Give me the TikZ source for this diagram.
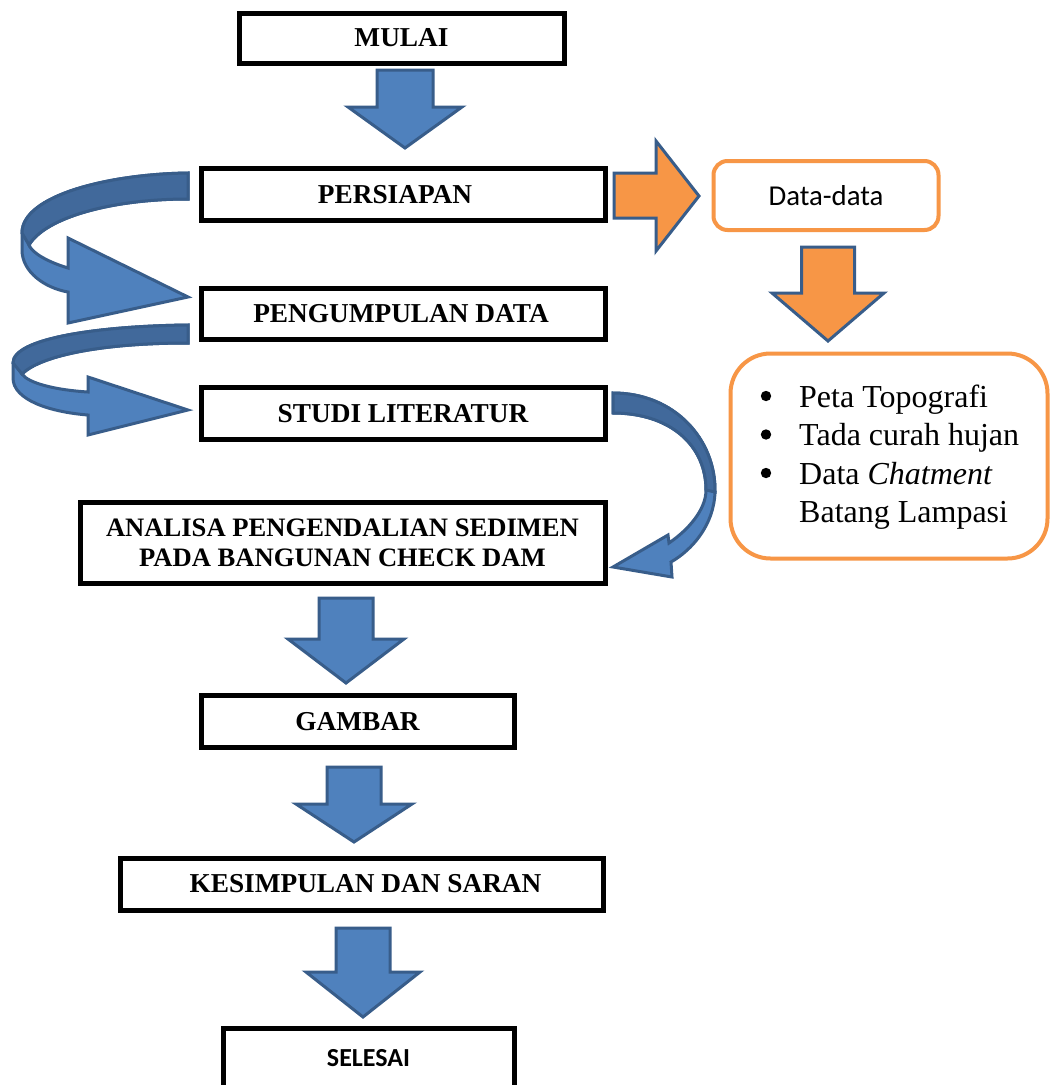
\documentclass[tikz,border=0pt]{standalone}
\usepackage{fontspec}
\setmainfont{Liberation Serif}
\newfontfamily\calibrifont{Carlito}
\definecolor{blockblue}{HTML}{4F81BD}
\definecolor{arrowblue}{HTML}{385D8A}
\definecolor{bandblue}{HTML}{41699B}
\definecolor{orangefill}{HTML}{F79646}
\newcommand{\blockdown}[7]{%
  \draw[blk, fill=#1] (#2-#6,#3) -- (#2+#6,#3) -- (#2+#6,#4) -- (#2+#7,#4) -- (#2,#5) -- (#2-#7,#4) -- (#2-#6,#4) -- cycle;}
\begin{document}
\begin{tikzpicture}[x=1pt,y=-1pt,
  box/.style={draw=black, line width=5pt, fill=white, inner sep=0pt,
    font=\fontsize{27.3}{30}\selectfont\bfseries, align=center},
  blk/.style={draw=arrowblue, line width=3pt, line join=miter, fill=blockblue},
  obox/.style={draw=orangefill, line width=4pt, fill=white},
  itemtext/.style={anchor=base west, inner sep=0pt, font=\fontsize{32}{38.5}\selectfont}
]
\clip (0,0) rectangle (1051,1085);
\fill[white] (0,0) rectangle (1051,1085);

% boxes
\node[box, minimum width=325, minimum height=50] (mulai) at (401.5,38) {MULAI};
\node[box, minimum width=404, minimum height=52] (persiapan) at (403,194.5) {\hspace*{-16pt}PERSIAPAN};
\node[box, minimum width=404, minimum height=51] (pengumpulan) at (403,314) {\hspace*{-4pt}PENGUMPULAN DATA};
\node[box, minimum width=404, minimum height=52] (studi) at (403,413.5) {STUDI LITERATUR};
\node[box, minimum width=525, minimum height=81, font=\fontsize{26.6}{30}\selectfont\bfseries] (analisa) at (342.5,542.5)
  {ANALISA PENGENDALIAN SEDIMEN\\PADA BANGUNAN CHECK DAM};
\node[box, minimum width=313, minimum height=52] (gambar) at (357.5,721.5) {GAMBAR};
\node[box, minimum width=483, minimum height=52] (kesimpulan) at (361.5,884) {\hspace*{8pt}KESIMPULAN DAN SARAN};
\node[box, minimum width=291, minimum height=74] (selesai) at (368.5,1065) {};
\node[font=\calibrifont\bfseries\fontsize{26}{30}\selectfont, inner sep=0pt] (selesaitext) at (368.5,1058) {SELESAI};

% orange boxes
\node[obox, rounded corners=14pt, minimum width=225, minimum height=69] (data) at (826,195.5)
  {\calibrifont\fontsize{28.8}{32}\selectfont Data-data};
\node[obox, rounded corners=40pt, minimum width=317, minimum height=205] (list) at (889,456) {};

% list items
\node[itemtext] (item1) at (799,407) {Peta Topografi};
\node[itemtext] (item2) at (799,445.5) {Tada curah hujan};
\node[itemtext] (item3) at (799,484) {Data \textit{Chatment}};
\node[itemtext] (item4) at (799,522.5) {Batang Lampasi};
\fill (766,396) circle (5.2);
\fill (766,434.5) circle (5.2);
\fill (766,473) circle (5.2);

% straight block arrows
\blockdown{blockblue}{405}{70}{107}{148}{28}{57}
\blockdown{orangefill}{828}{247}{293}{341}{26.5}{56}
\blockdown{blockblue}{346}{598}{639}{683}{27}{58}
\blockdown{blockblue}{354}{767}{804}{842}{27}{58}
\blockdown{blockblue}{363}{928}{972}{1017}{27}{57}

% orange right arrow
\draw[blk, fill=orangefill] (614,173) -- (656,173) -- (656,141) -- (699,196) -- (656,251) -- (656,218) -- (614,218) -- cycle;

% curved arrow 1 (persiapan -> pengumpulan)
\draw[blk] (188,173) .. controls (110,174) and (22,195) .. (22,233) -- (22,250)
  .. controls (22,272) and (45,288) .. (68,292) -- (68,323) -- (188,297) -- (68,238) -- (68,268)
  .. controls (48,262) and (32,253) .. (29,245) .. controls (45,218) and (110,199) .. (188,199) -- cycle;
\draw[blk, fill=bandblue] (188,173) .. controls (110,174) and (22,195) .. (22,233) -- (29,245)
  .. controls (45,218) and (110,199) .. (188,199) -- cycle;

% curved arrow 2 (pengumpulan -> studi)
\draw[blk] (188,325) .. controls (100,326) and (13,338) .. (13,363) -- (13,378)
  .. controls (13,400) and (50,412) .. (88,415) -- (88,435) -- (188,410) -- (88,377) -- (88,392)
  .. controls (55,390) and (28,383) .. (22,374) .. controls (40,356) and (100,343) .. (188,343) -- cycle;
\draw[blk, fill=bandblue] (188,325) .. controls (100,326) and (13,338) .. (13,363) -- (22,374)
  .. controls (40,356) and (100,343) .. (188,343) -- cycle;

% curved arrow 3 (studi -> analisa)
\draw[blk] (613,393) .. controls (675,393) and (716,440) .. (715,492)
  .. controls (714,525) and (692,550) .. (671,562) -- (672,577) -- (613,567) -- (668,535) -- (669,543)
  .. controls (688,530) and (706,510) .. (706,490) .. controls (706,445) and (670,413) .. (613,413) -- cycle;
\draw[blk, fill=bandblue] (613,393) .. controls (675,393) and (716,440) .. (715,492) -- (706,490)
  .. controls (706,445) and (670,413) .. (613,413) -- cycle;
\end{tikzpicture}
\end{document}
